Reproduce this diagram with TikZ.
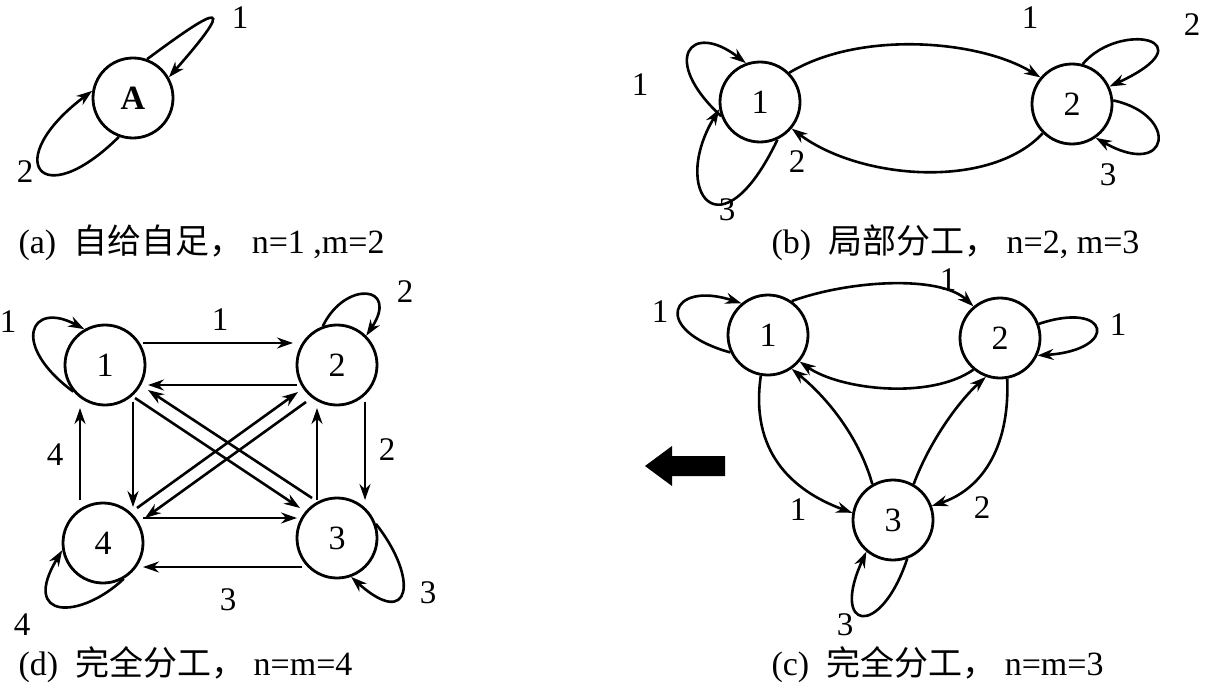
\documentclass[tikz,border=0pt]{standalone}
\usepackage{fontspec}
\setmainfont{Liberation Serif}
\newfontfamily\cjk{Noto Sans CJK SC}
\usetikzlibrary{arrows.meta}
\begin{document}
\begin{tikzpicture}[x=1pt,y=-1pt,
  st/.style={circle,draw,line width=2.8pt,minimum size=80pt,inner sep=0pt,font=\fontsize{34}{38}\selectfont},
  ar/.style={line width=2.6pt,-{Stealth[length=16pt,width=11pt]}},
  lb/.style={font=\fontsize{33}{36}\selectfont},
  captxt/.style={font=\fontsize{34}{40}\selectfont,anchor=west}]
\useasboundingbox (0,0) rectangle (1222,693);
% (a)
\node[st] (A) at (133,98) {\textbf{A}};
\draw[ar] (A.70) .. controls (200,20) and (250,-15) .. (A.30);
\draw[ar] (A.250) .. controls (40,215) and (0,160) .. (A.170);
\node[lb] (a1) at (240,18) {1};
\node[lb] (a2) at (25,172) {2};
\node[captxt] (ca) at (15,243) {(a)\ \ {\cjk 自给自足，}\ n=1 ,m=2};
% (b)
\node[st] (b1) at (760,102) {1};
\node[st] (b2) at (1072,104) {2};
\draw[ar] (b1.45) .. controls (860,30) and (980,40) .. (b2.140);
\draw[ar] (b2.225) .. controls (990,190) and (860,180) .. (b1.320);
\draw[ar] (b1.200) .. controls (660,60) and (690,20) .. (b1.110);
\draw[ar] (b1.295) .. controls (720,260) and (670,190) .. (b1.190);
\draw[ar] (b2.75) .. controls (1120,20) and (1210,40) .. (b2.25);
\draw[ar] (b2.5) .. controls (1180,115) and (1170,180) .. (b2.305);
\node[lb] (b1l) at (1030,18) {1};
\node[lb] (b2l) at (797,162) {2};
\node[lb] (b3l) at (640,85) {1};
\node[lb] (b4l) at (727,210) {3};
\node[lb] (b5l) at (1192,25) {2};
\node[lb] (b6l) at (1108,175) {3};
\node[captxt] (cb) at (768,243) {(b)\ \ {\cjk 局部分工，}\ n=2, m=3};
% (c)
\node[st] (c1) at (768,335) {1};
\node[st] (c2) at (1000,338) {2};
\node[st] (c3) at (893,520) {3};
\draw[ar] (c1.55) .. controls (850,280) and (940,275) .. (c2.130);
\draw[ar] (c2.230) .. controls (930,400) and (840,390) .. (c1.320);
\draw[ar] (c1.205) .. controls (650,330) and (670,280) .. (c1.130);
\draw[ar] (c2.20) .. controls (1110,300) and (1120,350) .. (c2.335);
\draw[ar] (c1.260) .. controls (750,450) and (790,490) .. (c3.170);
\draw[ar] (c3.120) .. controls (860,440) and (830,400) .. (c1.305);
\draw[ar] (c3.60) .. controls (930,440) and (960,400) .. (c2.250);
\draw[ar] (c2.280) .. controls (1010,450) and (980,490) .. (c3.20);
\draw[ar] (c3.290) .. controls (880,640) and (830,630) .. (c3.230);
\node[lb] (c1l) at (948,280) {1};
\node[lb] (c2l) at (660,312) {1};
\node[lb] (c3l) at (1118,325) {1};
\node[lb] (c4l) at (798,510) {1};
\node[lb] (c5l) at (982,508) {2};
\node[lb] (c6l) at (845,625) {3};
\node[captxt] (cc) at (768,665) {(c)\ \ {\cjk 完全分工，}\ n=m=3};
\fill (645,466) -- (672,446) -- (672,456) -- (725,456) -- (725,476) -- (672,476) -- (672,486) -- cycle;
% (d)
\node[st] (d1) at (105,365) {1};
\node[st] (d2) at (337,365) {2};
\node[st] (d3) at (337,538) {3};
\node[st] (d4) at (103,543) {4};
\draw[ar] (143,343) -- (293,343);
\draw[ar] (297,385) -- (148,385);
\draw[ar] (133,402) -- (133,507);
\draw[ar] (80,500) -- (80,408);
\draw[ar] (365,402) -- (365,500);
\draw[ar] (317,500) -- (317,408);
\draw[ar] (143,518) -- (297,518);
\draw[ar] (302,567) -- (143,567);
\draw[ar] (135,398) -- (300,508);
\draw[ar] (312,498) -- (148,390);
\draw[ar] (137,508) -- (298,392);
\draw[ar] (306,402) -- (145,518);
\draw[ar] (d1.220) .. controls (10,345) and (30,300) .. (d1.120);
\draw[ar] (d2.110) .. controls (345,280) and (400,285) .. (d2.45);
\draw[ar] (d3.20) .. controls (420,580) and (410,630) .. (d3.290);
\draw[ar] (d4.300) .. controls (80,620) and (20,620) .. (d4.190);
\node[lb] (d1l) at (220,320) {1};
\node[lb] (d2l) at (387,450) {2};
\node[lb] (d3l) at (228,600) {3};
\node[lb] (d4l) at (55,455) {4};
\node[lb] (d5l) at (8,322) {1};
\node[lb] (d6l) at (405,292) {2};
\node[lb] (d7l) at (428,593) {3};
\node[lb] (d8l) at (22,625) {4};
\node[captxt] (cd) at (15,665) {(d)\ \ {\cjk 完全分工，}\ n=m=4};
\end{tikzpicture}
\end{document}
